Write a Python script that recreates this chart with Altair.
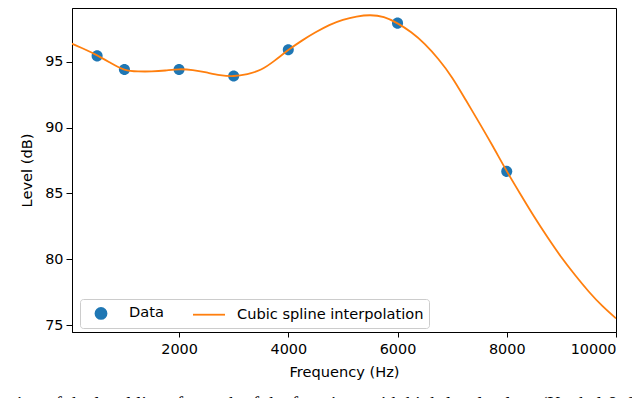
import altair as alt
import pandas as pd

# measured data points
data_freq = [500, 1000, 2000, 3000, 4000, 6000, 8000]
data_level = [95.46, 94.42, 94.42, 93.93, 95.93, 97.95, 86.68]

# curve, every 250 Hz
spline_freq = [0, 250, 500, 750, 1000, 1250, 1500, 1750, 2000, 2250, 2500, 2750, 3000,
               3250, 3500, 3750, 4000, 4250, 4500, 4750, 5000, 5250, 5500, 5750, 6000,
               6250, 6500, 6750, 7000, 7250, 7500, 7750, 8000, 8250, 8500, 8750, 9000,
               9250, 9500, 9750, 10000]
spline_level = [96.45, 96.0, 95.5, 94.92, 94.42, 94.28, 94.28, 94.35, 94.44, 94.38, 94.2, 94.0, 93.93,
                94.08, 94.42, 95.1, 95.9, 96.62, 97.25, 97.8, 98.2, 98.45, 98.55, 98.4, 97.93,
                97.25, 96.35, 95.2, 93.8, 92.1, 90.35, 88.55, 86.7, 84.95, 83.25, 81.65, 80.15,
                78.8, 77.55, 76.45, 75.5]

series_names = ["Data", "Cubic spline interpolation"]
series_colors = ["#1f77b4", "#ff7f0e"]
x_ticks = [2000, 4000, 6000, 8000, 10000]
y_ticks = [75, 80, 85, 90, 95]
caption = ["lation of the level lines for each of the functions with high-level values (Kochel & Sandl"]

pts = pd.DataFrame({"freq": data_freq, "level": data_level, "series": series_names[0]})
crv = pd.DataFrame({"freq": spline_freq, "level": spline_level, "series": series_names[1]})

circle_path = "M0,-0.69A0.69,0.69,0,1,1,0,0.69A0.69,0.69,0,1,1,0,-0.69Z"
dash_path = "M-2,0L2,0"

x_enc = alt.X("freq:Q",
              scale=alt.Scale(domain=[40, 10000], nice=False, zero=False),
              axis=alt.Axis(values=x_ticks, title="Frequency (Hz)", format="d",
                            labelPadding=5, titlePadding=9, tickSize=5))
y_enc = alt.Y("level:Q",
              scale=alt.Scale(domain=[74.47, 99.1], nice=False, zero=False),
              axis=alt.Axis(values=y_ticks, title="Level (dB)",
                            labelPadding=3, titlePadding=10, tickSize=6))

legend = alt.Legend(
    title=None, orient="none", legendX=8, legendY=291, direction="horizontal",
    symbolSize=256, symbolOffset=7, labelFontSize=14.6, labelFont="DejaVu Sans",
    labelColor="black", labelLimit=400,
    labelOffset=19, columnPadding=25, padding=5, strokeColor="#cccccc",
    cornerRadius=3, fillColor="white", symbolOpacity=1,
    symbolStrokeColor={"expr": "datum.value === 'Data' ? 'transparent' : '#ff7f0e'"},
    symbolStrokeWidth=1.8,
)

color_enc = alt.Color("series:N", scale=alt.Scale(domain=series_names, range=series_colors),
                      legend=legend)
shape_enc = alt.Shape("series:N", scale=alt.Scale(domain=series_names, range=[circle_path, dash_path]),
                      legend=legend)

points = alt.Chart(pts).mark_point(filled=True, opacity=1, size=256).encode(
    x=x_enc, y=y_enc, color=color_enc, shape=shape_enc)

line = alt.Chart(crv).mark_line(strokeWidth=1.8, interpolate="natural", clip=True).encode(
    x="freq:Q", y="level:Q", color=color_enc)

cap = alt.Chart(pd.DataFrame({"t": caption})).mark_text(
    align="left", baseline="alphabetic", font="Liberation Serif", fontSize=19, color="black"
).encode(x=alt.value(-74), y=alt.value(402), text="t:N")

chart = alt.layer(points, line, cap).properties(
    width=544, height=324,
    autosize=alt.AutoSizeParams(type="none"),
    padding={"left": 64, "top": 0, "right": 16, "bottom": 66},
).configure_view(stroke="black", strokeWidth=1).configure_axis(
    grid=False, domainColor="black", tickColor="black", labelColor="black",
    titleColor="black", labelFont="DejaVu Sans", titleFont="DejaVu Sans",
    labelFontSize=14.4, titleFontSize=14.6, titleFontWeight="normal", domainWidth=1, tickWidth=1,
)

chart.save("out.html", embed_options={"renderer": "svg", "actions": False})
